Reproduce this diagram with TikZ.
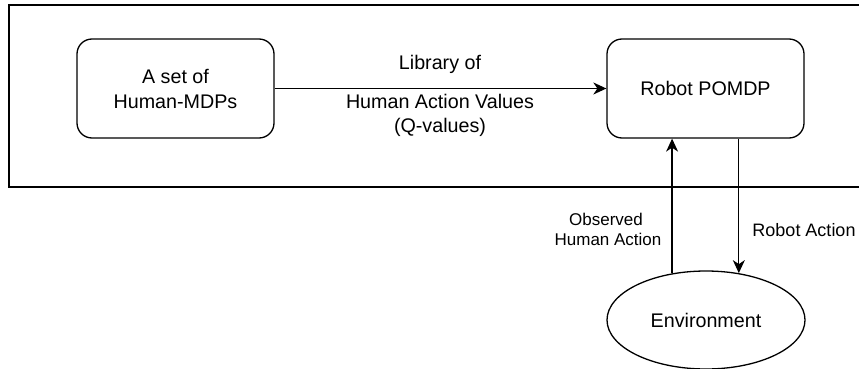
\documentclass[tikz,border=0pt]{standalone}
\usepackage{fontspec}
\setmainfont{Liberation Sans}
\usetikzlibrary{shapes.geometric,arrows.meta}
\begin{document}
\begin{tikzpicture}[x=1pt,y=-1pt,
  line width=1.3pt,
  box/.style={draw,rounded corners=15pt,minimum width=197pt,minimum height=99pt,inner sep=0pt,align=center,font=\fontsize{19.7}{25}\selectfont},
  arr/.style={-{Stealth[length=13pt,width=12pt,inset=4pt]}},
  lbl/.style={anchor=base,inner sep=0pt,font=\fontsize{19.7}{25}\selectfont},
  slbl/.style={anchor=base,inner sep=0pt,font=\fontsize{17}{20}\selectfont}]
\useasboundingbox (0,0) rectangle (859,369);
\draw (9,5) rectangle (880,187);
\node[box] (hm) at (175.5,88.5) {A set of\\Human-MDPs};
\node[box] (robot) at (705.5,88.5) {Robot POMDP};
\node[draw,ellipse,minimum width=198pt,minimum height=98pt,inner sep=0pt,font=\fontsize{19.7}{25}\selectfont] (env) at (706,320) {Environment};
\draw[arr] (hm.east) -- (robot.west);
\node[lbl] (l1) at (440,70) {Library of};
\node[lbl] (l2) at (440,108) {Human Action Values};
\node[lbl] (l3) at (440,132) {(Q-values)};
\draw[arr] (env.126.5) -- (env.126.5 |- robot.south);
\draw[arr] (env.55.4 |- robot.south) -- (env.55.4);
\node[slbl] (o1) at (606,225) {Observed};
\node[slbl] (o2) at (608,245) {Human Action};
\node[slbl,font=\fontsize{18}{20}\selectfont] (ra) at (804,236) {Robot Action};
\end{tikzpicture}
\end{document}
